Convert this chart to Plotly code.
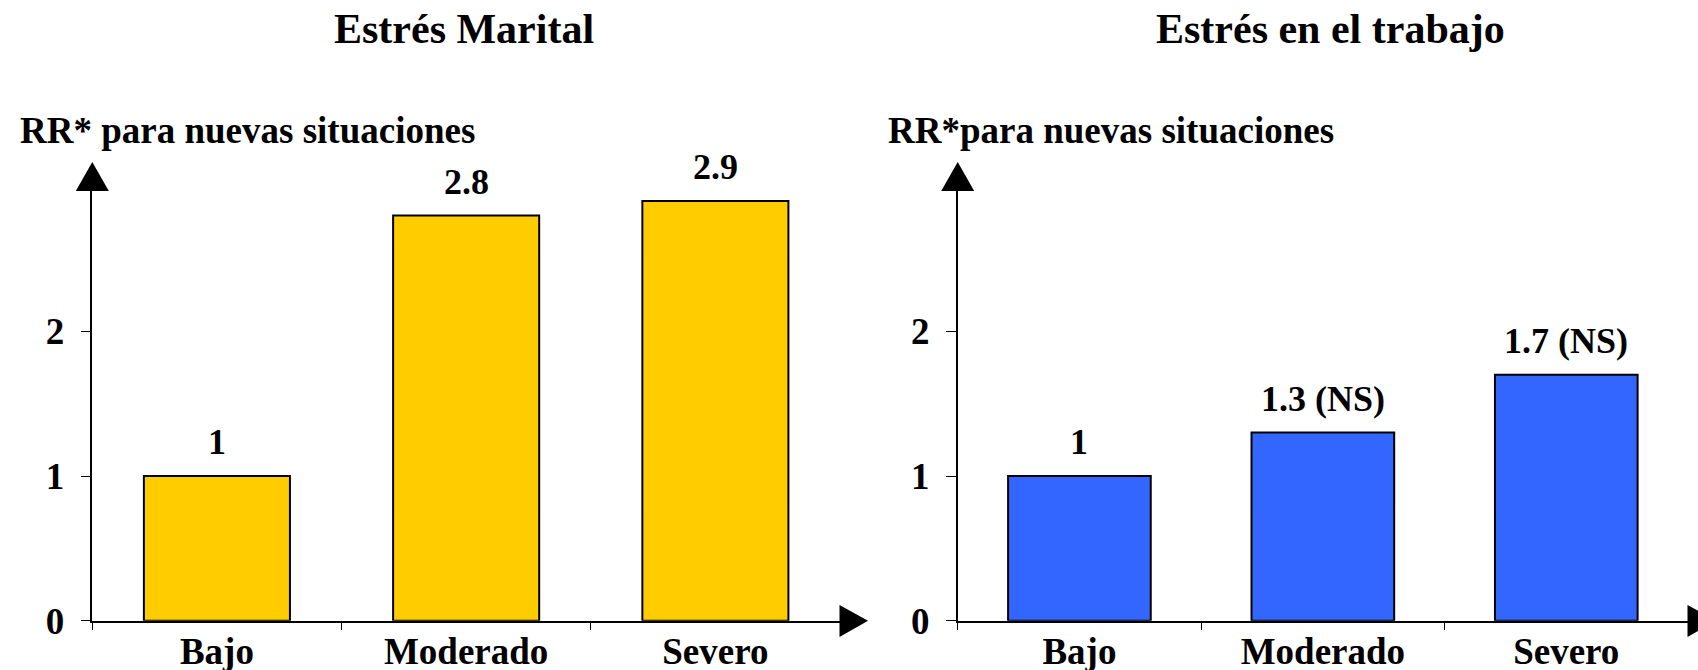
import plotly.graph_objects as go

# Relative risk by stress level
categories = ["Bajo", "Moderado", "Severo"]
marital_rr = [1.0, 2.8, 2.9]
marital_labels = ["1", "2.8", "2.9"]
work_rr = [1.0, 1.3, 1.7]
work_labels = ["1", "1.3 (NS)", "1.7 (NS)"]
y_ticks = [0, 1, 2]

panel_titles = ["Estrés Marital", "Estrés en el trabajo"]
y_titles = ["RR* para nuevas situaciones", "RR*para nuevas situaciones"]

W, H = 1698, 670
FONT = "Liberation Serif, Times New Roman, serif"


def px_x(v):
    return v / W


def px_y(v):
    return (H - v) / H


# axis geometry in pixels
zero_y, top_y = 620.7, 190.5
unit_px = 144.7
y_max = (zero_y - top_y) / unit_px
left_x0, left_x1 = 92.3, 840.0
right_x0, right_x1 = 957.7, 1688.0

fig = go.Figure()

fig.add_trace(go.Bar(
    x=categories, y=marital_rr, xaxis="x", yaxis="y",
    width=0.586,
    marker=dict(color="#FFCC00", line=dict(color="black", width=2)),
    hoverinfo="skip",
))
fig.add_trace(go.Bar(
    x=categories, y=work_rr, xaxis="x2", yaxis="y2",
    width=0.586,
    marker=dict(color="#3366FF", line=dict(color="black", width=2)),
    hoverinfo="skip",
))

tick_font = dict(family=FONT, size=37, color="black", weight="bold")

xaxis_common = dict(
    type="category", range=[-0.5, 2.5], showline=True, linecolor="black",
    linewidth=1.5, ticks="outside", ticklen=8, tickwidth=1, tickcolor="black",
    tickson="boundaries", showgrid=False, zeroline=False, tickfont=tick_font,
    ticklabelstandoff=-3, fixedrange=True, automargin=False,
)
yaxis_common = dict(
    range=[0, y_max], showline=True, linecolor="black", linewidth=1.5,
    ticks="outside", ticklen=10, tickwidth=1, tickcolor="black",
    tickvals=y_ticks, ticktext=[str(t) for t in y_ticks], showgrid=False,
    zeroline=False, tickfont=tick_font, ticklabelstandoff=9,
    domain=[px_y(zero_y), px_y(top_y)], fixedrange=True, automargin=False,
)

fig.update_layout(
    width=W, height=H,
    margin=dict(l=0, r=0, t=0, b=0),
    paper_bgcolor="white", plot_bgcolor="white",
    showlegend=False,
    xaxis=dict(xaxis_common, domain=[px_x(left_x0), px_x(left_x1)], anchor="y"),
    yaxis=dict(yaxis_common, anchor="x"),
    xaxis2=dict(xaxis_common, domain=[px_x(right_x0), px_x(right_x1)], anchor="y2"),
    yaxis2=dict(yaxis_common, anchor="x2"),
)

annotations = []
# value labels above bars
for xref, yref, vals, labels in (("x", "y", marital_rr, marital_labels),
                                 ("x2", "y2", work_rr, work_labels)):
    for c, v, t in zip(categories, vals, labels):
        annotations.append(dict(
            x=c, y=v, xref=xref, yref=yref, text=t, showarrow=False,
            yanchor="bottom", yshift=12,
            font=dict(family=FONT, size=36, color="black", weight="bold"),
        ))

# panel titles
for cx, t in ((463.5, panel_titles[0]), (1330.0, panel_titles[1])):
    annotations.append(dict(
        x=px_x(cx), y=px_y(29), xref="paper", yref="paper", text=t,
        showarrow=False, xanchor="center", yanchor="middle",
        font=dict(family=FONT, size=42, color="black", weight="bold"),
    ))

# y-axis titles
for lx, t in ((18, y_titles[0]), (886, y_titles[1])):
    annotations.append(dict(
        x=px_x(lx), y=px_y(130), xref="paper", yref="paper", text=t,
        showarrow=False, xanchor="left", yanchor="middle",
        font=dict(family=FONT, size=37, color="black", weight="bold"),
    ))

fig.update_layout(annotations=annotations)


def tri(points):
    p = [(px_x(a), px_y(b)) for a, b in points]
    return "M {} {} L {} {} L {} {} Z".format(*[c for xy in p for c in xy])


shapes = []
for ax0, ax1 in ((left_x0, left_x1), (right_x0, right_x1)):
    # arrow heads at the end of each axis
    shapes.append(dict(type="path", xref="paper", yref="paper",
                       path=tri([(ax0 - 16.5, 191), (ax0 + 16.5, 191), (ax0, 162)]),
                       fillcolor="black", line=dict(width=0)))
    shapes.append(dict(type="path", xref="paper", yref="paper",
                       path=tri([(ax1 - 0.5, 605), (ax1 - 0.5, 637), (ax1 + 28, zero_y)]),
                       fillcolor="black", line=dict(width=0)))
fig.update_layout(shapes=shapes)

fig.write_html("out.html")
